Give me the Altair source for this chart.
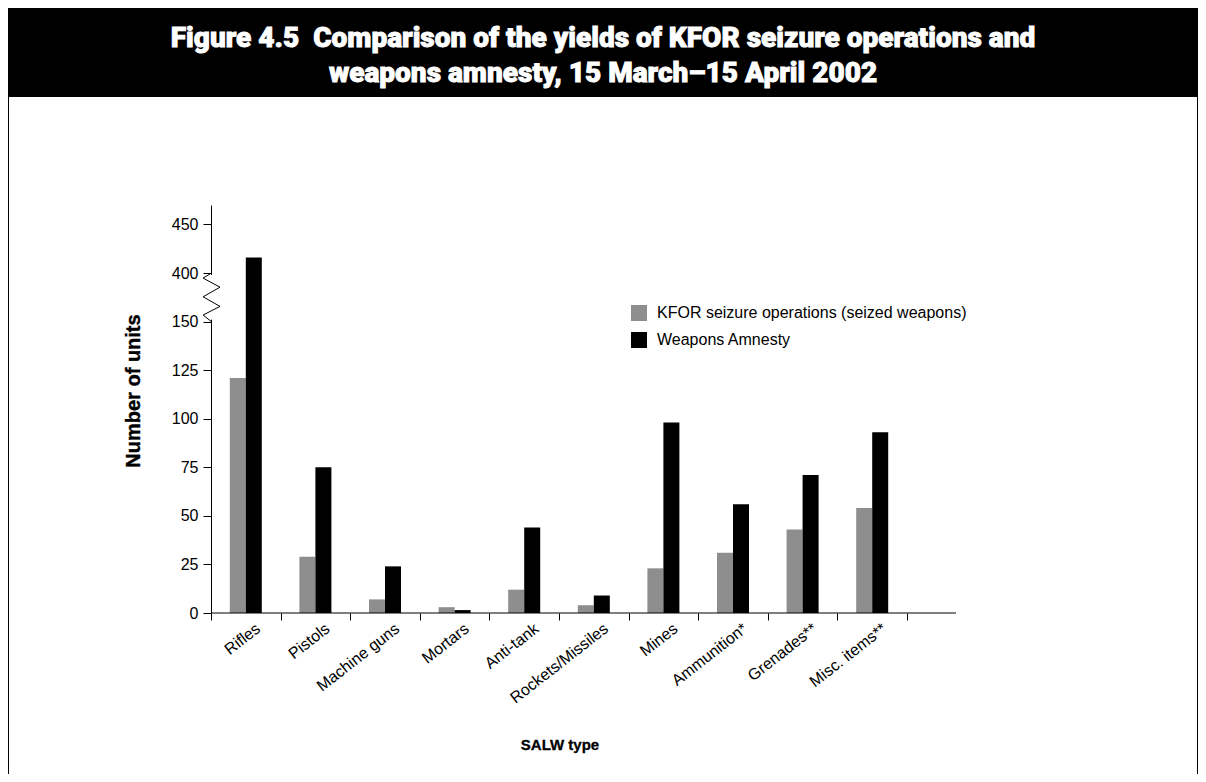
import altair as alt
import pandas as pd

# ---------------- data ----------------
categories = ["Rifles", "Pistols", "Machine guns", "Mortars", "Anti-tank",
              "Rockets/Missiles", "Mines", "Ammunition*", "Grenades**", "Misc. items**"]
kfor_values = [121, 29, 7, 3, 12, 4, 23, 31, 43, 54]
amnesty_values = [416, 75, 24, 1.5, 44, 9, 98, 56, 71, 93]
series_names = ["KFOR seizure operations (seized weapons)", "Weapons Amnesty"]
series_colors = ["#8e8e8e", "#000000"]
y_tick_labels = [0, 25, 50, 75, 100, 125, 150, 400, 450]
title_lines = ["Figure 4.5\u00a0\u00a0Comparison of the yields of KFOR seizure operations and",
               "weapons amnesty, 15 March\u201315 April 2002"]
x_title = "SALW type"
y_title = "Number of units"

# broken axis: 0-150 linear, then 400+ compressed (50 units -> 25 units of height)
BREAK_LOW, BREAK_HIGH = 150, 400


def to_axis(v):
    return v if v <= BREAK_LOW else (BREAK_LOW + 25) + (v - BREAK_HIGH) / 2


rows = []
for c, k, a in zip(categories, kfor_values, amnesty_values):
    rows.append({"cat": c, "series": series_names[0], "value": k})
    rows.append({"cat": c, "series": series_names[1], "value": a})
df = pd.DataFrame(rows)

tick_positions = [to_axis(v) for v in y_tick_labels]

# ---------------- layout ----------------
TOTAL_W, TOTAL_H = 1190, 766
LEFT, TOP = 203, 197
W, H = 696, 408
YMAX = 210
BAR_W = 16
FONT = "Liberation Sans"


def ypix(v):
    # pixel row of an axis-space value (used only for the break decoration)
    return H - v * H / YMAX


yscale = alt.Scale(domain=[0, YMAX], nice=False, zero=True)
xscale = alt.Scale(domain=categories, paddingInner=0, paddingOuter=0)
cscale = alt.Scale(domain=series_names, range=series_colors)

calc = "datum.value <= 150 ? datum.value : 175 + (datum.value - 400) / 2"
label_expr = "datum.value <= 150 ? datum.value : 400 + (datum.value - 175) * 2"

x_axis = alt.Axis(title=None, domain=False, tickBand="extent",
                  tickSize=7, tickColor="black", tickWidth=1,
                  labelAngle=-38, labelAlign="right", labelBaseline="top",
                  labelOffset=7, labelPadding=0,
                  labelFont=FONT, labelFontSize=16, labelColor="black")
y_axis = alt.Axis(values=tick_positions, labelExpr=label_expr,
                  title=None, grid=False, zindex=0,
                  domainColor="black", domainWidth=1,
                  tickSize=8, tickColor="black", tickWidth=1,
                  labelPadding=5, labelFont=FONT, labelFontSize=16,
                  labelColor="black")
legend = alt.Legend(title=None, orient="none", legendX=420, legendY=100,
                    symbolType="square", symbolSize=256,
                    symbolStrokeWidth=0, symbolOpacity=1,
                    labelFont=FONT, labelFontSize=16, labelLimit=0,
                    labelColor="black", labelOffset=10,
                    rowPadding=11, padding=0)


def bar_layer(name, offset):
    return alt.Chart(df).transform_filter(
        alt.datum.series == name
    ).transform_calculate(yt=calc).mark_bar(width=BAR_W, xOffset=offset).encode(
        x=alt.X("cat:N", sort=categories, scale=xscale, axis=x_axis),
        y=alt.Y("yt:Q", scale=yscale, axis=y_axis),
        color=alt.Color("series:N", sort=series_names, scale=cscale, legend=legend),
    )


bars_kfor = bar_layer(series_names[0], -BAR_W / 2)
bars_amnesty = bar_layer(series_names[1], BAR_W / 2)

one = pd.DataFrame({"a": [0]})

band = alt.Chart(one).mark_rect(color="black").encode(
    x=alt.value(-LEFT), x2=alt.value(TOTAL_W - LEFT),
    y=alt.value(-TOP), y2=alt.value(-108))

frame = alt.Chart(one).mark_rect(fillOpacity=0, stroke="black", strokeWidth=1).encode(
    x=alt.value(-LEFT + 0.5), x2=alt.value(TOTAL_W - LEFT - 0.5),
    y=alt.value(-TOP + 0.5), y2=alt.value(TOTAL_H))

x_line = alt.Chart(one).mark_rule(color="black", strokeWidth=1).encode(
    x=alt.value(0), x2=alt.value(745), y=alt.value(H))

gap = alt.Chart(one).mark_rule(color="white", strokeWidth=3).encode(
    x=alt.value(0), y=alt.value(ypix(151)), y2=alt.value(ypix(174)))

zig_path = "M0,-1L-0.33,-0.8L0.375,-0.42L-0.33,-0.02L0.375,0.38L-0.33,0.74L0,1"
zigzag = alt.Chart(one).mark_point(shape=zig_path, size=2304, filled=False,
                                   stroke="black", strokeWidth=1, opacity=1).encode(
    x=alt.value(0), y=alt.value(ypix(162.5)))

y_title_mark = alt.Chart(pd.DataFrame({"t": [y_title]})).mark_text(
    font=FONT, fontSize=20, fontWeight="bold", color="black",
    stroke="black", strokeWidth=0.4, angle=270,
    align="center", baseline="middle").encode(
    x=alt.value(-77), y=alt.value(186), text="t:N")

x_title_mark = alt.Chart(pd.DataFrame({"t": [x_title]})).mark_text(
    font=FONT, fontSize=15, fontWeight="bold", color="black",
    stroke="black", strokeWidth=0.3,
    align="center", baseline="middle").encode(
    x=alt.value(349), y=alt.value(H + 132), text="t:N")


def title_line(text, y):
    return alt.Chart(pd.DataFrame({"t": [text]})).mark_text(
        color="white", stroke="white", strokeWidth=0.9,
        font="Roboto", fontWeight=900, fontSize=28,
        align="center", baseline="alphabetic").encode(
        x=alt.value(392), y=alt.value(y), text="t:N")


t1 = title_line(title_lines[0], -158)
t2 = title_line(title_lines[1], -123)

chart = alt.layer(band, frame, bars_kfor, bars_amnesty, x_line, gap, zigzag,
                  y_title_mark, x_title_mark, t1, t2).properties(
    width=W, height=H,
    autosize=alt.AutoSizeParams(type="none"),
    padding={"left": LEFT, "top": TOP, "right": TOTAL_W - LEFT - W,
             "bottom": TOTAL_H - TOP - H},
    background="white",
).configure_view(stroke=None)

chart.save("out.html", embed_options={"renderer": "svg", "actions": False})
